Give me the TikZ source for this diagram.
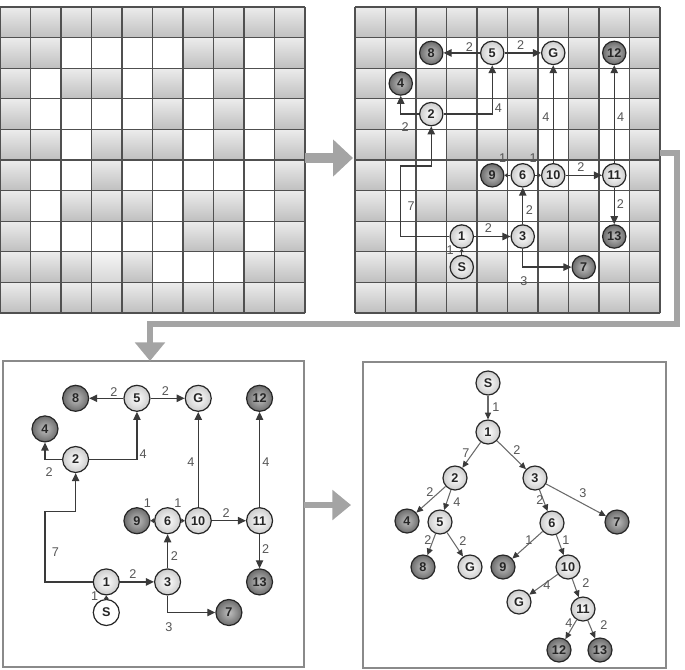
\documentclass[tikz,border=0pt]{standalone}
\usepackage{fontspec}
\setmainfont{Liberation Sans}
\usetikzlibrary{arrows.meta}
\definecolor{edgec}{HTML}{3A3A3A}
\definecolor{labc}{HTML}{555555}
\definecolor{gridln}{HTML}{505050}
\definecolor{arrc}{HTML}{A4A4A4}
\definecolor{boxc}{HTML}{8A8A8A}
\definecolor{treeedge}{HTML}{6A6A6A}
\tikzset{
 gnode/.style={circle, draw=black!85, line width=0.9pt, inner sep=0pt, minimum size=#1, font=\bfseries\fontsize{9.5}{9.5}\selectfont, text=black!85},
 gnode/.default=18pt,
 lightfill/.style={inner color=white, outer color=gray!40},
 darkfill/.style={inner color=gray!50, outer color=gray!85!black},
 whitefill/.style={fill=white},
 gedge/.style={draw=edgec, line width=1pt, -{Triangle[length=6pt,width=5.5pt]}},
 tinyedge/.style={draw=edgec, line width=0.8pt, -{Triangle[length=2.5pt,width=3.5pt]}},
 elab/.style={font=\fontsize{9.5}{9.5}\selectfont, text=labc, inner sep=0pt},
 tedge/.style={draw=treeedge, line width=0.8pt, -{Triangle[length=5pt,width=4.5pt,color=edgec]}},
 panel/.style={draw=boxc, line width=1.1pt, inner sep=0pt},
 bigarrow/.style={draw=arrc, line width=7pt, -{Triangle[length=15pt,width=27pt]}},
 midarrow/.style={draw=arrc, line width=4pt, -{Triangle[length=14pt,width=22pt]}},
 cellgray/.style={top color=gray!15, bottom color=gray!50},
 cellstart/.style={top color=gray!8, bottom color=gray!32},
}
\newcommand\mazegrid[2]{%
\begin{scope}[shift={(#1,#2)}, x=22.875pt, y=-22.95pt]
 \foreach \r in {0,...,9}{\foreach \c in {0,...,9}{\shade[cellgray] (\c,\r) rectangle ++(1,1);}}
 \foreach \c/\r in {2/1,3/1,4/1,5/1,8/1, 1/2,4/2,6/2,8/2, 1/3,2/3,3/3,4/3,6/3,8/3, 2/4,6/4,8/4,
   1/5,2/5,4/5,5/5,6/5,7/5,8/5, 1/6,5/6,8/6, 1/7,2/7,3/7,4/7,5/7,8/7, 5/8,6/8,7/8}
   {\fill[white] (\c,\r) rectangle ++(1,1);}
 \shade[cellstart] (3,8) rectangle ++(1,1);
\end{scope}}
\newcommand\gridlines[2]{%
\begin{scope}[shift={(#1,#2)}, x=22.875pt, y=-22.95pt]
 \foreach \i in {0,...,10}{\draw[gridln, line width=0.8pt] (\i,0) -- (\i,10); \draw[gridln, line width=0.8pt] (0,\i) -- (10,\i);}
\end{scope}}
\newcommand\mazegraph[6]{%
\begin{scope}[shift={(#2,#3)}, x=#4, y=-22.95pt]
 \node[gnode=#5,#6] (#1S) at (3.5,8.5) {S};
 \node[gnode=#5,lightfill] (#1n1) at (3.5,7.5) {1};
 \node[gnode=#5,lightfill] (#1n2) at (2.5,3.5) {2};
 \node[gnode=#5,lightfill] (#1n3) at (5.5,7.5) {3};
 \node[gnode=#5,darkfill] (#1n4) at (1.5,2.5) {4};
 \node[gnode=#5,lightfill] (#1n5) at (4.5,1.5) {5};
 \node[gnode=#5,lightfill] (#1n6) at (5.5,5.5) {6};
 \node[gnode=#5,darkfill] (#1n7) at (7.5,8.5) {7};
 \node[gnode=#5,darkfill] (#1n8) at (2.5,1.5) {8};
 \node[gnode=#5,darkfill] (#1n9) at (4.5,5.5) {9};
 \node[gnode=#5,lightfill] (#1n10) at (6.5,5.5) {10};
 \node[gnode=#5,lightfill] (#1n11) at (8.5,5.5) {11};
 \node[gnode=#5,darkfill] (#1n12) at (8.5,1.5) {12};
 \node[gnode=#5,darkfill] (#1n13) at (8.5,7.5) {13};
 \node[gnode=#5,lightfill] (#1G) at (6.5,1.5) {G};
 \coordinate (#1b2) at (1.5,5.2);
 \draw[tinyedge] (#1S) -- (#1n1);
 \draw[gedge] (#1n1) -- (#1n3);
 \draw[gedge] (#1n1.west) -| (#1b2) -| (#1n2.south);
 \draw[gedge] (#1n2.west) -| (#1n4.south);
 \draw[gedge] (#1n2.east) -| (#1n5.south);
 \draw[gedge] (#1n5) -- (#1n8);
 \draw[gedge] (#1n5) -- (#1G);
 \draw[gedge] (#1n10) -- (#1G);
 \draw[gedge] (#1n11) -- (#1n12);
 \draw[gedge] (#1n10) -- (#1n11);
 \draw[gedge] (#1n11) -- (#1n13);
 \draw[gedge] (#1n3) -- (#1n6);
 \draw[gedge] (#1n3.south) |- (#1n7.west);
 \draw[tinyedge] (#1n6) -- (#1n9);
 \draw[tinyedge] (#1n6) -- (#1n10);
 \node[elab] (#1l1) at (3.12,7.95) {1};
 \node[elab] (#1l2) at (4.37,7.23) {2};
 \node[elab] (#1l3) at (1.84,6.52) {7};
 \node[elab] (#1l4) at (1.64,3.92) {2};
 \node[elab] (#1l5) at (4.70,3.32) {4};
 \node[elab] (#1l6) at (3.75,1.30) {2};
 \node[elab] (#1l7) at (5.43,1.25) {2};
 \node[elab] (#1l8) at (6.26,3.60) {4};
 \node[elab] (#1l9) at (8.71,3.59) {4};
 \node[elab] (#1l10) at (7.41,5.24) {2};
 \node[elab] (#1l11) at (8.70,6.43) {2};
 \node[elab] (#1l12) at (5.72,6.65) {2};
 \node[elab] (#1l13) at (5.54,8.97) {3};
 \node[elab] (#1l14) at (4.84,4.93) {1};
 \node[elab] (#1l15) at (5.84,4.93) {1};
\end{scope}}
\begin{document}
\begin{tikzpicture}[x=0.75pt,y=-0.75pt]
\useasboundingbox (0,0) rectangle (685,669);
% top-left grid
\mazegrid{0}{7}
\gridlines{0}{7}
% top-right grid
\mazegrid{355}{7}
\begin{scope}[shift={(355,7)}, x=22.875pt, y=-22.95pt]
 \fill[white] (6,1) rectangle ++(1,1);
\end{scope}
\gridlines{355}{7}
\mazegraph{a}{355}{7}{22.875pt}{17.5pt}{lightfill}
% bottom panels
\node[panel, minimum width=225.75pt, minimum height=229.5pt] (BL) at (153.5,514) {};
\node[panel, minimum width=227.25pt, minimum height=229.5pt] (BR) at (514.5,515) {};
\mazegraph{b}{-1}{352.4}{22.99pt}{19.5pt}{whitefill}
% tree
\node[gnode, lightfill] (tS) at (488,383) {S};
\node[gnode, lightfill] (t1) at (488,432) {1};
\node[gnode, lightfill] (t2) at (455,478) {2};
\node[gnode, lightfill] (t3) at (535,478) {3};
\node[gnode, darkfill] (t4) at (407,521) {4};
\node[gnode, lightfill] (t5) at (440,522) {5};
\node[gnode, lightfill] (t6) at (552,523) {6};
\node[gnode, darkfill] (t7) at (617,522) {7};
\node[gnode, darkfill] (t8) at (423,567) {8};
\node[gnode, lightfill] (tGa) at (470,567) {G};
\node[gnode, darkfill] (t9) at (503,567) {9};
\node[gnode, lightfill] (t10) at (568,567) {10};
\node[gnode, lightfill] (tGb) at (519,602) {G};
\node[gnode, lightfill] (t11) at (583,609) {11};
\node[gnode, darkfill] (t12) at (559,650) {12};
\node[gnode, darkfill] (t13) at (600,650) {13};
\draw[tedge] (tS) -- (t1);
\draw[tedge] (t1) -- (t2);
\draw[tedge] (t1) -- (t3);
\draw[tedge] (t2) -- (t4);
\draw[tedge] (t2) -- (t5);
\draw[tedge] (t3) -- (t6);
\draw[tedge] (t3) -- (t7);
\draw[tedge] (t5) -- (t8);
\draw[tedge] (t5) -- (tGa);
\draw[tedge] (t6) -- (t9);
\draw[tedge] (t6) -- (t10);
\draw[tedge] (t10) -- (tGb);
\draw[tedge] (t10) -- (t11);
\draw[tedge] (t11) -- (t12);
\draw[tedge] (t11) -- (t13);
\node[elab] (tl1) at (496,407) {1};
\node[elab] (tl2) at (466,453) {7};
\node[elab] (tl3) at (517,450) {2};
\node[elab] (tl4) at (430,492) {2};
\node[elab] (tl5) at (457,502) {4};
\node[elab] (tl6) at (540,500) {2};
\node[elab] (tl7) at (583,493) {3};
\node[elab] (tl8) at (428,540) {2};
\node[elab] (tl9) at (463,541) {2};
\node[elab] (tl10) at (529,540) {1};
\node[elab] (tl11) at (566,540) {1};
\node[elab] (tl12) at (547,585) {4};
\node[elab] (tl13) at (586,583) {2};
\node[elab] (tl14) at (569,623) {4};
\node[elab] (tl15) at (604,625) {2};
% big arrows
\coordinate (TLe) at (305,158);
\coordinate (TRw) at (353,158);
\draw[bigarrow] (TLe) -- (TRw);
\coordinate (TRe) at (660,153);
\coordinate (bendA) at (677,324);
\coordinate (BLin) at (150,361);
\draw[midarrow, line width=3.8pt] (TRe) -| (bendA) -| (BLin);
\coordinate (BLe) at (304,505);
\coordinate (BRw) at (351,505);
\draw[midarrow] (BLe) -- (BRw);
\end{tikzpicture}
\end{document}
